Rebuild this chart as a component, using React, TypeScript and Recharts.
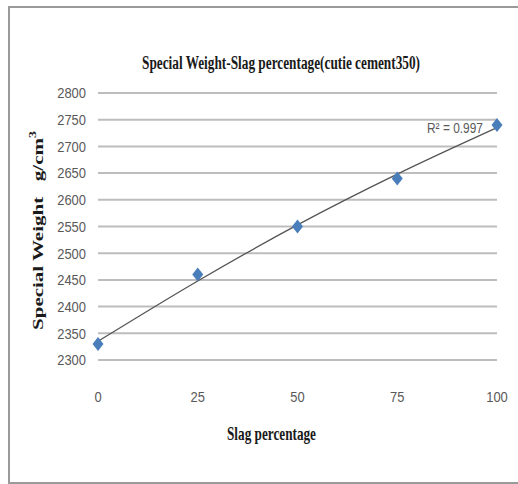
import { ComposedChart, Line, Scatter, XAxis, YAxis, CartesianGrid, Label, LabelList } from 'recharts';

// measured points
const slag = [0, 25, 50, 75, 100];
const weight = [2330, 2460, 2550, 2640, 2740];

// 2nd order trendline read at each slag step
const trendWeight = [2335, 2448, 2553, 2648, 2735];
const rSquared = '0.997';

const yTicks = [2300, 2350, 2400, 2450, 2500, 2550, 2600, 2650, 2700, 2750, 2800];
const xTicks = [0, 25, 50, 75, 100];

const points = slag.map((s, i) => ({ slag: s, weight: weight[i] }));
const trend = slag.map((s, i) => ({ slag: s, trend: trendWeight[i] }));

const SANS = '"Liberation Sans", Arial, sans-serif';
const SERIF = '"Liberation Serif", "Times New Roman", serif';
const TEXT = '#595959';
const INK = '#1a1a1a';
const BLUE = '#4a7ebb';
// the whole chart is set in narrow type
const DIGIT_W = 7.2;

function Diamond(props: any) {
  const { cx, cy } = props;
  if (cx == null || cy == null) return null;
  return <polygon points={`${cx},${cy - 7} ${cx + 5.5},${cy} ${cx},${cy + 7} ${cx - 5.5},${cy}`} fill={BLUE} />;
}

function XTick(props: any) {
  const { x, y, payload } = props;
  const s = String(payload.value);
  return (
    <text x={x} y={y} dy="0.71em" textAnchor="middle" fontFamily={SANS} fontSize={15} fill={TEXT}
      textLength={s.length * DIGIT_W} lengthAdjust="spacingAndGlyphs">
      {s}
    </text>
  );
}

function YTick(props: any) {
  const { x, y, payload } = props;
  const s = String(payload.value);
  return (
    <text x={x} y={y} dy="0.355em" textAnchor="end" fontFamily={SANS} fontSize={15} fill={TEXT}
      textLength={s.length * DIGIT_W} lengthAdjust="spacingAndGlyphs">
      {s}
    </text>
  );
}

function XTitle(props: any) {
  const { viewBox } = props;
  const cx = viewBox.x + viewBox.width / 2 - 26;
  return (
    <text x={cx} y={viewBox.y + viewBox.height + 50} textAnchor="middle" fontFamily={SERIF} fontWeight="bold"
      fontSize={19} fill={INK} textLength={89} lengthAdjust="spacingAndGlyphs">
      Slag percentage
    </text>
  );
}

function YTitle(props: any) {
  const { viewBox } = props;
  const cx = viewBox.x + 38;
  const cy = viewBox.y + viewBox.height / 2 + 4;
  return (
    <g transform={`translate(${cx}, ${cy}) scale(0.68, 1) rotate(-90)`}>
      <text x={0} y={0} textAnchor="middle" dominantBaseline="central" fontFamily={SERIF} fontWeight="bold"
        fontSize={21} fill={INK} style={{ whiteSpace: 'pre' }}>
        {'Special Weight   g/cm'}
        <tspan dy={-8} fontSize={14}>3</tspan>
      </text>
    </g>
  );
}

function RLabel(props: any) {
  const { x, y, index } = props;
  if (index !== slag.length - 1) return null;
  return (
    <text x={x - 14} y={y} dy="0.355em" textAnchor="end" fontFamily={SANS} fontSize={15} fill={TEXT}
      textLength={56} lengthAdjust="spacingAndGlyphs">
      {`R² = ${rSquared}`}
    </text>
  );
}

export default function App() {
  return (
    <div style={{ position: 'absolute', left: 0, top: 0, width: 518, height: 484, background: '#fff', overflow: 'hidden' }}>
      <div style={{ position: 'absolute', left: 8, top: 6, width: 530, height: 474, border: '2px solid #9a9a9a' }} />
      <svg width={518} height={80} style={{ position: 'absolute', left: 0, top: 0 }}>
        <text x={281} y={63} dy="0.355em" textAnchor="middle" fontFamily={SERIF} fontWeight="bold" fontSize={18}
          fill={INK} textLength={278} lengthAdjust="spacingAndGlyphs">
          Special Weight-Slag percentage(cutie cement350)
        </text>
      </svg>
      <ComposedChart
        width={518}
        height={484}
        margin={{ top: 93, right: 21, bottom: 94, left: 0 }}
        style={{ position: 'absolute', left: 0, top: 0 }}
      >
        <CartesianGrid vertical={false} stroke="#bdbdbd" strokeWidth={2} />
        <XAxis
          type="number"
          dataKey="slag"
          domain={[0, 100]}
          ticks={xTicks}
          height={30}
          axisLine={false}
          tickLine={false}
          tickSize={0}
          tickMargin={31}
          tick={<XTick />}
        >
          <Label content={<XTitle />} />
        </XAxis>
        <YAxis
          type="number"
          domain={[2300, 2800]}
          ticks={yTicks}
          width={98}
          axisLine={false}
          tickLine={false}
          tickSize={0}
          tickMargin={12}
          tick={<YTick />}
        >
          <Label content={<YTitle />} />
        </YAxis>
        <Line
          data={trend}
          dataKey="trend"
          type="monotone"
          stroke="#555"
          strokeWidth={1.3}
          dot={false}
          activeDot={false}
          isAnimationActive={false}
        >
          <LabelList dataKey="trend" content={<RLabel />} />
        </Line>
        <Scatter data={points} dataKey="weight" shape={<Diamond />} isAnimationActive={false} />
      </ComposedChart>
    </div>
  );
}
